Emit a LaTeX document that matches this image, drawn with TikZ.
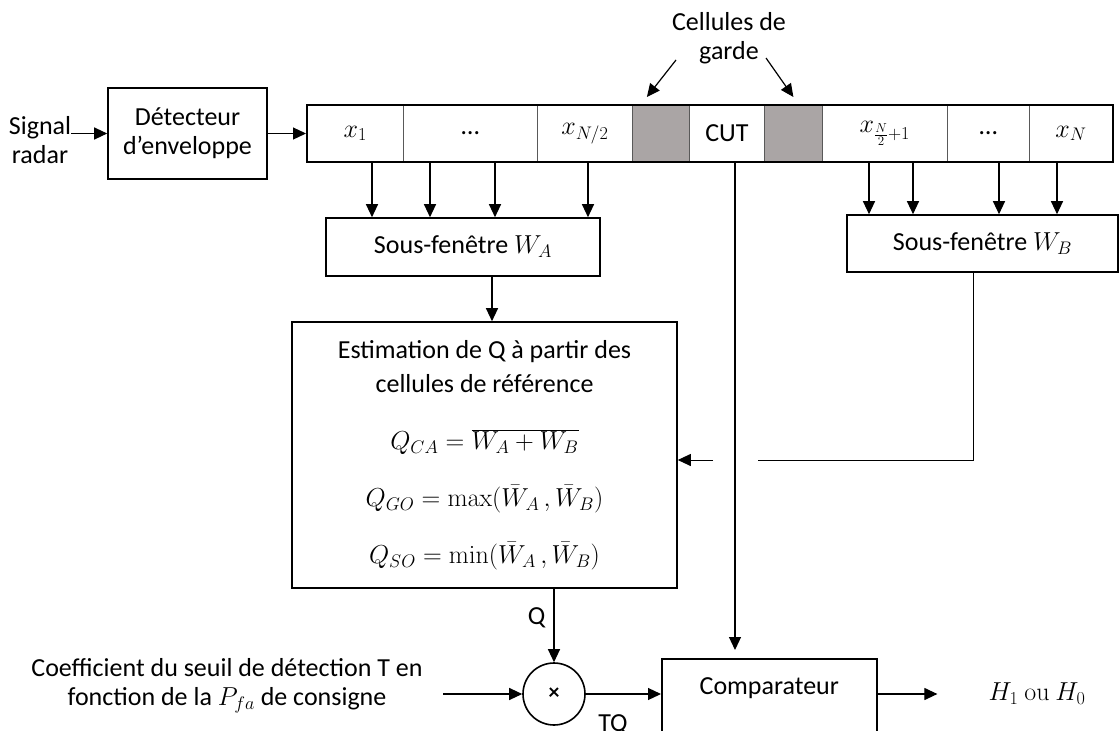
\RequirePackage{fix-cm}
\documentclass[tikz,border=0pt]{standalone}
\usepackage[no-math]{fontspec}
\setmainfont{Carlito}
\usetikzlibrary{arrows.meta,fit}
\definecolor{cellgrey}{RGB}{170,165,165}

\begin{document}
\begin{tikzpicture}[x=1pt, y=-1pt, font=\fontsize{26}{29}\selectfont,
  >={Triangle[length=13pt,width=12pt]},
  box/.style={draw, line width=1.6pt, inner sep=0pt, align=center},
  cell/.style={draw=black!65, line width=0.8pt, minimum height=56pt, inner sep=0pt, anchor=north west},
  link/.style={->, line width=1.2pt}]
\useasboundingbox (0,0) rectangle (1120,731);
\clip (0,0) rectangle (1120,731);

% entree
\node[align=center, inner sep=0pt] (sig) at (40,140) {Signal\\radar};
\node[box, minimum width=159pt, minimum height=91pt] (det) at (187.5,133.5) {Détecteur\\d’enveloppe};

% fenetre de reference
\foreach \name/\xa/\xb/\txt/\col in {c1/307/403/{$x_1$}/white, c2/403/537/…/white,
    c3/537/632/{$x_{N/2}$}/white, g1/632/689//cellgrey, cut/689/764/CUT/white,
    g2/764/822//cellgrey, c4/822/947/{$x_{\frac{N}{2}+1}$}/white, c5/947/1029/…/white,
    c6/1029/1112/{$x_N$}/white}
  \node[cell, fill=\col, minimum width={\xb-\xa}] (\name) at (\xa,105) {\txt};
\node[fit=(c1)(c6), draw, line width=2pt, inner sep=0pt] (row) {};

\node[align=center, inner sep=0pt] (garde) at (729,38) {Cellules de\\garde};
\coordinate (gA) at (676,60);
\coordinate (gB) at (766,58);
\draw[link] (gA) -- ([xshift=-14pt,yshift=8pt]g1.north);
\draw[link] (gB) -- ([yshift=8pt]g2.north);

\draw[link] (sig.east |- det.west) -- (det.west);
\draw[link] (det.east) -- (det.east -| row.west);

% sous-fenetres
\node[box, minimum width=274pt, minimum height=58pt] (wa) at (463,247) {Sous-fenêtre $W_A$};
\node[box, minimum width=271pt, minimum height=57pt] (wb) at (982.5,243.5) {Sous-fenêtre $W_B$};
\foreach \x in {372,430,495,588}
  \draw[link] (\x,0 |- row.south) -- (\x,0 |- wa.north);
\foreach \x in {869,913,999,1057}
  \draw[link] (\x,0 |- row.south) -- (\x,0 |- wb.north);

% estimation
\node[box, minimum width=385pt, minimum height=266pt, font=\fontsize{26}{34}\selectfont] (est) at (484.5,455)
  {Estimation de Q à partir des\\cellules de référence\\[23pt]
   $Q_{CA}=\overline{W_A+W_B}$\\[23pt]
   $Q_{GO}=\max(\bar{W}_A\,,\bar{W}_B)$\\[23pt]
   $Q_{SO}=\min(\bar{W}_A\,,\bar{W}_B)$};
\draw[link] (492,0 |- wa.south) -- (492,0 |- est.north);

\coordinate (gapR) at (758,460);
\coordinate (gapL) at (713,460);
\draw[line width=1pt] (973,0 |- wb.south) |- (gapR);
\draw[link, line width=1pt] (gapL) -- (gapL -| est.east);

% seuil et comparaison
\node[draw, circle, line width=1.6pt, minimum size=62pt, inner sep=0pt] (mult) at (554,694) {\fontsize{22}{22}\selectfont\bfseries ×};
\draw[link] (mult.north |- est.south) -- node[left, pos=0.39, inner sep=8pt] (qlab) {Q} (mult.north);

\node[align=center, inner sep=0pt] (coef) at (227,686) {Coefficient du seuil de détection T en\\fonction de la $P_{fa}$ de consigne};
\coordinate (cin) at (443,694);
\draw[link] (cin) -- (mult.west);

\node[box, anchor=north west, minimum width=215pt, text height=17pt, text depth=60pt, inner ysep=19pt] (comp) at (661,658) {Comparateur};
\draw[link] (mult.east) -- (mult.east -| comp.west);
\node[anchor=base, inner sep=0pt] (tq) at (613,731) {TQ};
\draw[link, shorten >=8pt] (735,0 |- row.south) -- (735,0 |- comp.north);

\node[inner sep=0pt] (out) at (1037,694) {$H_1\ \mathrm{ou}\ H_0$};
\draw[link] (comp.east |- out) -- ([xshift=-51pt]out.west);
\end{tikzpicture}
\end{document}
